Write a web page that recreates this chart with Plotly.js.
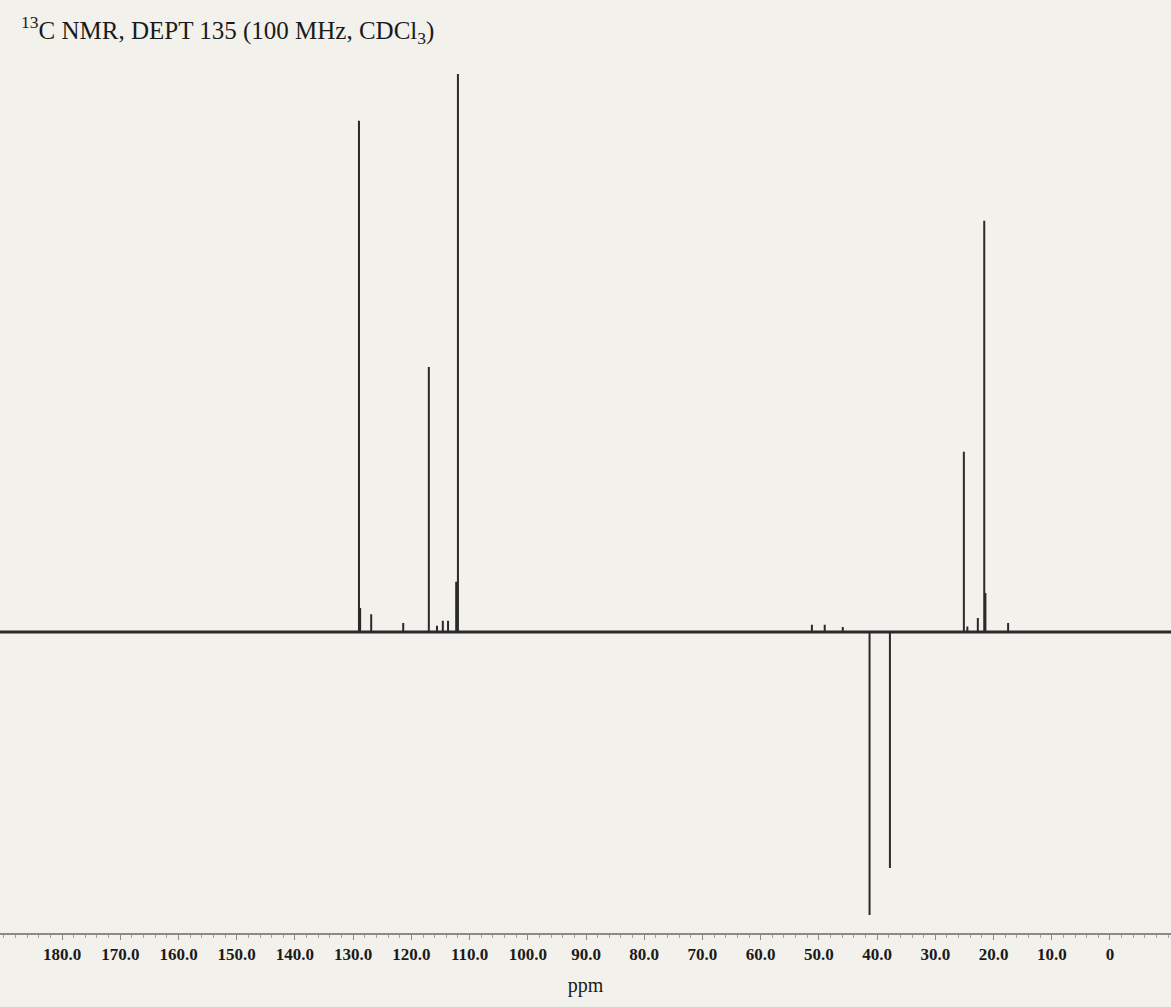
<!DOCTYPE html>
<html>
<head>
<meta charset="utf-8">
<script src="https://cdn.plot.ly/plotly-3.0.1.min.js"></script>
<style>
  html, body { margin: 0; padding: 0; background: #f3f1ec; }
  #chart { width: 1171px; height: 1007px; }
</style>
</head>
<body>
<div id="chart"></div>
<script>
// Chemical shifts (ppm) of DEPT-135 signals and their relative intensities
const peakShifts = [129.0, 128.8, 126.9, 121.4, 117.0, 115.6, 114.6, 113.7, 112.3, 112.0,
                    51.2, 49.0, 45.9, 41.3, 37.8, 25.1, 24.5, 22.7, 21.6, 21.4, 17.5];
const peakIntensities = [91.6, 4.3, 3.2, 1.6, 47.5, 1.1, 2.0, 2.0, 9.0, 100.0,
                         1.3, 1.3, 0.9, -50.7, -42.3, 32.3, 1.0, 2.5, 73.7, 7.0, 1.6];
// Axis tick labels
const tickValues = [180, 170, 160, 150, 140, 130, 120, 110, 100, 90, 80, 70, 60, 50, 40, 30, 20, 10, 0];
const tickLabels = ["180.0", "170.0", "160.0", "150.0", "140.0", "130.0", "120.0", "110.0", "100.0",
                    "90.0", "80.0", "70.0", "60.0", "50.0", "40.0", "30.0", "20.0", "10.0", "0"];
const ppmRange = [190.66, -10.48];

// Build stick spectrum from peak list
const sx = [], sy = [];
peakShifts.forEach((p, i) => {
  sx.push(p, p, p, null);
  sy.push(0, peakIntensities[i], 0, null);
});

const baseline = {
  x: ppmRange, y: [0, 0], mode: 'lines', type: 'scatter',
  line: { color: '#2a2a2a', width: 3 }, hoverinfo: 'skip', showlegend: false
};
const sticks = {
  x: sx, y: sy, mode: 'lines', type: 'scatter',
  line: { color: '#2a2a2a', width: 2 }, connectgaps: false, showlegend: false
};

const serif = '"Liberation Serif", "Times New Roman", serif';
const layout = {
  width: 1171, height: 1007,
  paper_bgcolor: '#f3f1ec', plot_bgcolor: '#f3f1ec',
  margin: { l: 0, r: 0, t: 60, b: 74 },
  title: {
    text: '<sup>13</sup>C NMR, DEPT 135 (100 MHz, CDCl<sub>3</sub>)',
    x: 0.018, xanchor: 'left', xref: 'paper',
    y: 1 - 30 / 1007, yref: 'container', yanchor: 'middle',
    font: { family: serif, size: 25, color: '#1a1a1a' }
  },
  xaxis: {
    range: ppmRange,
    showgrid: false, zeroline: false,
    showline: true, linecolor: '#8a8a8a', linewidth: 1.5,
    ticks: 'outside', ticklen: 5, tickwidth: 1, tickcolor: '#8a8a8a',
    tickvals: tickValues, ticktext: tickLabels,
    tickfont: { family: serif, size: 17, color: '#1a1a1a', weight: 'bold' },
    minor: { dtick: 2, ticklen: 3, tickcolor: '#a0a0a0', ticks: 'outside', showgrid: false },
    title: { text: 'ppm', standoff: 15,
             font: { family: serif, size: 20, color: '#1a1a1a' } },
    fixedrange: true
  },
  yaxis: {
    range: [-53.94, 102.5], visible: false, showgrid: false, zeroline: false, fixedrange: true
  },
  showlegend: false
};

Plotly.newPlot('chart', [baseline, sticks], layout, { staticPlot: true, displayModeBar: false });
</script>
</body>
</html>
